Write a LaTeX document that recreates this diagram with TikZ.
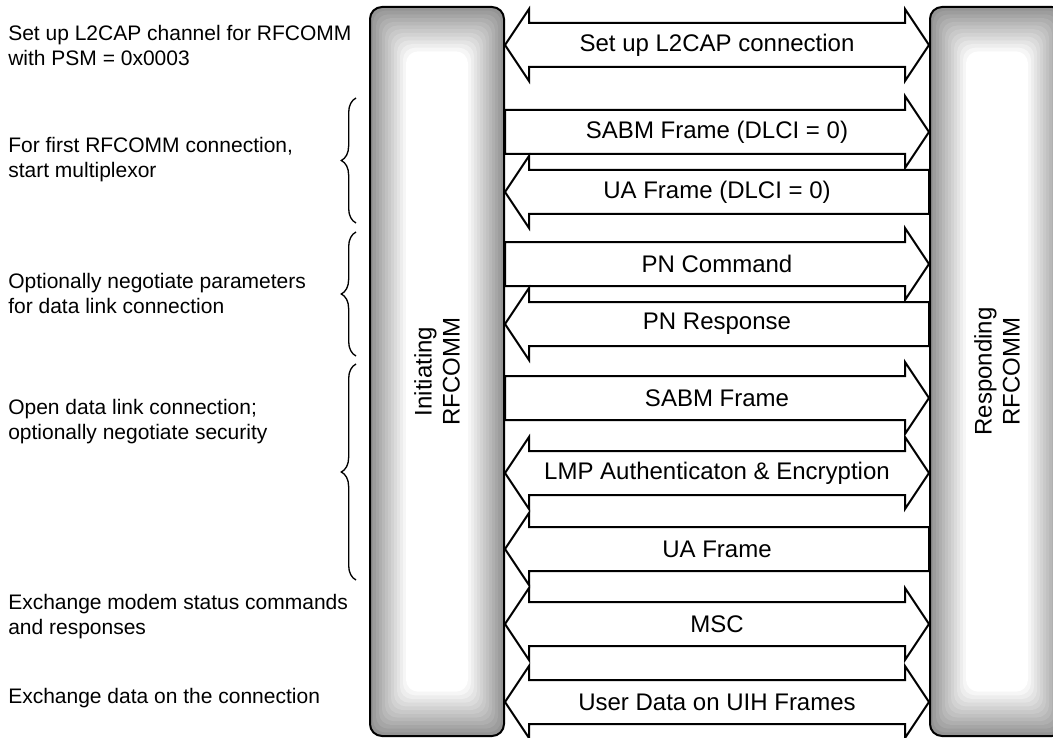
\documentclass[tikz,border=0pt]{standalone}
\usepackage{fontspec}
\setmainfont{Liberation Sans}
\usetikzlibrary{decorations.pathreplacing}

\begin{document}
\begin{tikzpicture}[x=0.75pt,y=0.75pt,yscale=-1,xscale=1,
  entitybar/.style={draw, line width=1.5pt, rounded corners=9pt, minimum width=100.5pt, minimum height=546.75pt, inner sep=0pt},
  barlabel/.style={font=\fontsize{18}{21}\selectfont, align=center, rotate=90},
  blockarrow/.style={draw, fill=white, line width=1.5pt, line join=miter},
  msglabel/.style={font=\fontsize{18}{21}\selectfont, inner sep=0pt},
  sidenote/.style={font=\fontsize{15.75}{18.75}\selectfont, align=left, anchor=west, inner sep=0pt},
  groupbrace/.style={decorate, decoration={brace, amplitude=11pt}, line width=1pt}]
  \clip (0,0) rectangle (1053,738);
  \useasboundingbox (0,0) rectangle (1053,738);

  %Shape: Shaded Bars
  \foreach \bx in {370,930}
    \foreach \i in {0,...,12}{
      \pgfmathsetmacro\greylevel{42-3.5*\i}
      \fill[black!\greylevel, rounded corners=9pt] ({\bx+3*\i},{7+3.7*\i}) rectangle ({\bx+134-3*\i},{736-3.7*\i});
    }
  %Shape: Initiating Bar
  \node[entitybar] (ini) at (437,371.5) {};
  \node[barlabel] (inilabel) at (ini.center) {Initiating\\RFCOMM};
  %Shape: Responding Bar
  \node[entitybar] (resp) at (997,371.5) {};
  \node[barlabel] (resplabel) at (resp.center) {Responding\\RFCOMM};

  \coordinate (lhead) at ([xshift=18pt]ini.east);
  \coordinate (rhead) at ([xshift=-18pt]resp.west);

  %Shape: Double Arrow
  \draw[blockarrow] (ini.east |- 0,45) -- (lhead |- 0,9) -- (lhead |- 0,23) -- (rhead |- 0,23) -- (rhead |- 0,9) -- (resp.west |- 0,45) -- (rhead |- 0,81) -- (rhead |- 0,67) -- (lhead |- 0,67) -- (lhead |- 0,81) -- cycle;
  \node[msglabel] (m1) at (717,45) {Set up L2CAP connection};
  %Shape: Right Arrow
  \draw[blockarrow] (ini.east |- 0,110) -- (rhead |- 0,110) -- (rhead |- 0,96) -- (resp.west |- 0,132) -- (rhead |- 0,168) -- (rhead |- 0,154) -- (ini.east |- 0,154) -- cycle;
  \node[msglabel] (m2) at (717,132) {SABM Frame (DLCI = 0)};
  %Shape: Left Arrow
  \draw[blockarrow] (ini.east |- 0,192) -- (lhead |- 0,156) -- (lhead |- 0,170) -- (resp.west |- 0,170) -- (resp.west |- 0,214) -- (lhead |- 0,214) -- (lhead |- 0,228) -- cycle;
  \node[msglabel] (m3) at (717,192) {UA Frame (DLCI = 0)};
  %Shape: Right Arrow
  \draw[blockarrow] (ini.east |- 0,242) -- (rhead |- 0,242) -- (rhead |- 0,228) -- (resp.west |- 0,264) -- (rhead |- 0,300) -- (rhead |- 0,286) -- (ini.east |- 0,286) -- cycle;
  \node[msglabel] (m4) at (717,264) {PN Command};
  %Shape: Left Arrow
  \draw[blockarrow] (ini.east |- 0,324) -- (lhead |- 0,288) -- (lhead |- 0,302) -- (resp.west |- 0,302) -- (resp.west |- 0,346) -- (lhead |- 0,346) -- (lhead |- 0,360) -- cycle;
  \node[msglabel] (m5) at (717,324) {PN Response};
  %Shape: Right Arrow
  \draw[blockarrow] (ini.east |- 0,376) -- (rhead |- 0,376) -- (rhead |- 0,362) -- (resp.west |- 0,398) -- (rhead |- 0,434) -- (rhead |- 0,420) -- (ini.east |- 0,420) -- cycle;
  \node[msglabel] (m6) at (717,398) {SABM Frame};
  %Shape: Double Arrow
  \draw[blockarrow] (ini.east |- 0,473) -- (lhead |- 0,437) -- (lhead |- 0,451) -- (rhead |- 0,451) -- (rhead |- 0,437) -- (resp.west |- 0,473) -- (rhead |- 0,509) -- (rhead |- 0,495) -- (lhead |- 0,495) -- (lhead |- 0,509) -- cycle;
  \node[msglabel] (m7) at (717,473) {LMP Authenticaton \& Encryption};
  %Shape: Left Arrow
  \draw[blockarrow] (ini.east |- 0,549) -- (lhead |- 0,513) -- (lhead |- 0,527) -- (resp.west |- 0,527) -- (resp.west |- 0,571) -- (lhead |- 0,571) -- (lhead |- 0,585) -- cycle;
  \node[msglabel] (m8) at (717,549) {UA Frame};
  %Shape: Double Arrow
  \draw[blockarrow] (ini.east |- 0,624) -- (lhead |- 0,588) -- (lhead |- 0,602) -- (rhead |- 0,602) -- (rhead |- 0,588) -- (resp.west |- 0,624) -- (rhead |- 0,660) -- (rhead |- 0,646) -- (lhead |- 0,646) -- (lhead |- 0,660) -- cycle;
  \node[msglabel] (m9) at (717,624) {MSC};
  %Shape: Double Arrow
  \draw[blockarrow] (ini.east |- 0,702) -- (lhead |- 0,666) -- (lhead |- 0,680) -- (rhead |- 0,680) -- (rhead |- 0,666) -- (resp.west |- 0,702) -- (rhead |- 0,738) -- (rhead |- 0,724) -- (lhead |- 0,724) -- (lhead |- 0,738) -- cycle;
  \node[msglabel] (m10) at (717,702) {User Data on UIH Frames};

  %Braces
  \draw[groupbrace] (356,223) -- (356,98);
  \draw[groupbrace] (356,356) -- (356,232);
  \draw[groupbrace] (356,580) -- (356,364);

  %Side notes
  \node[sidenote] (n1) at (8,45.5) {Set up L2CAP channel for RFCOMM\\with PSM = 0x0003};
  \node[sidenote] (n2) at (8,160) {For first RFCOMM connection,\\start multiplexor};
  \node[sidenote] (n3) at (8,293) {Optionally negotiate parameters\\for data link connection};
  \node[sidenote] (n4) at (8,422) {Open data link connection;\\optionally negotiate security};
  \node[sidenote] (n5) at (8,617) {Exchange modem status commands\\and responses};
  \node[sidenote] (n6) at (8,698) {Exchange data on the connection};
\end{tikzpicture}
\end{document}
